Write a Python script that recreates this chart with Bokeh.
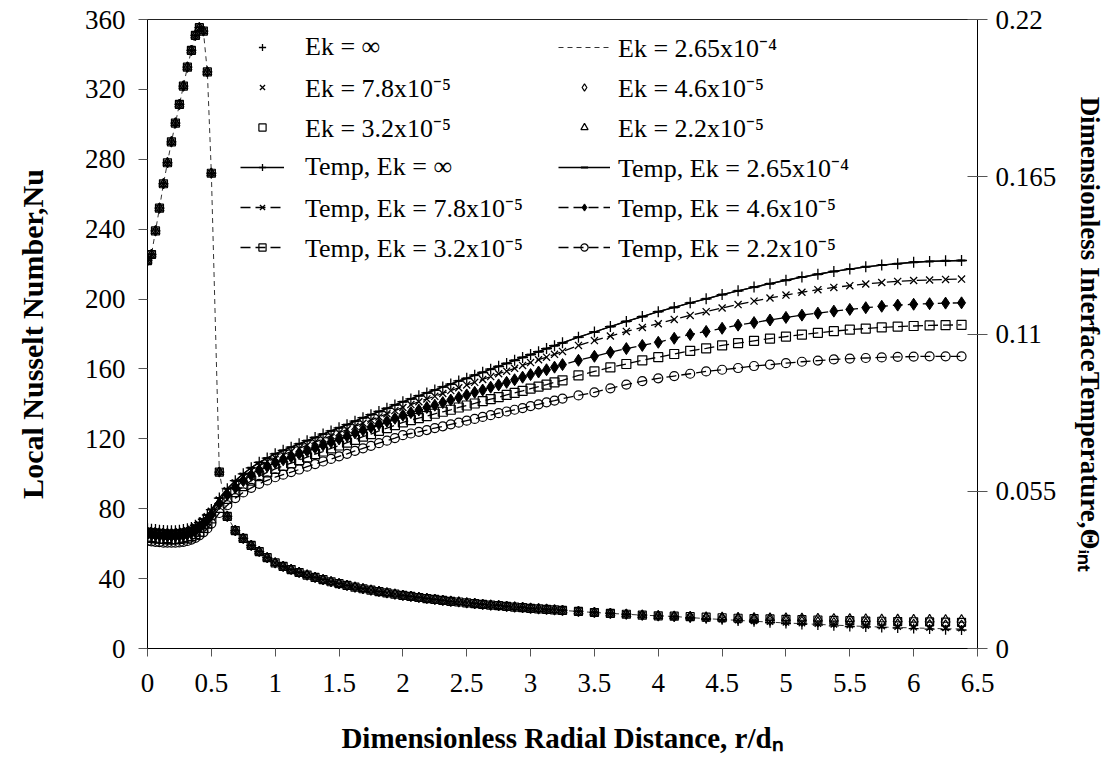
import numpy as np
from bokeh.plotting import figure
from bokeh.models import (Range1d, LinearAxis, FixedTicker, NumeralTickFormatter,
                          Legend, LegendItem)
from bokeh.embed import file_html
from bokeh.resources import INLINE

# ---------------- data ----------------
# radial positions r/d_n
r_dn = [0, 0.03125, 0.0625, 0.09375, 0.125, 0.15625, 0.1875, 0.21875, 0.25, 0.28125,
        0.3125, 0.34375, 0.375, 0.40625, 0.4375, 0.46875, 0.5,
        0.5625, 0.625, 0.6875, 0.75, 0.8125, 0.875, 0.9375, 1.0,
        1.0625, 1.125, 1.1875, 1.25, 1.3125, 1.375, 1.4375, 1.5, 1.5625, 1.625, 1.6875,
        1.75, 1.8125, 1.875, 1.9375, 2.0,
        2.0625, 2.125, 2.1875, 2.25, 2.3125, 2.375, 2.4375, 2.5, 2.5625, 2.625, 2.6875,
        2.75, 2.8125, 2.875, 2.9375, 3.0, 3.0625, 3.125, 3.1875, 3.25,
        3.375, 3.5, 3.625, 3.75, 3.875, 4.0, 4.125, 4.25, 4.375, 4.5, 4.625, 4.75, 4.875,
        5.0, 5.125, 5.25, 5.375, 5.5, 5.625, 5.75, 5.875, 6.0, 6.125, 6.25, 6.375]

# Local Nusselt number: all Ekman cases coincide up to r/d_n = 4
nu_common = [222, 225.5, 239, 252, 266, 278, 290, 300.7, 311.4, 321.9, 332.7, 342.3, 350.9,
             355.3, 353.4, 330, 272,
             101, 75.6, 67.5, 63, 59, 55.5, 52, 49,
             47.0, 45.2, 43.5, 42.0, 40.7, 39.4, 38.2, 37.1, 36.1, 35.1, 34.2, 33.4, 32.6,
             31.8, 31.1, 30.4,
             29.8, 29.2, 28.6, 28.1, 27.5, 27.0, 26.6, 26.1, 25.7, 25.2, 24.8, 24.5, 24.1,
             23.7, 23.4, 23.0, 22.7, 22.4, 22.1, 21.8,
             21.2, 20.6, 20.1, 19.6, 19.1, 18.7]
# Nusselt number beyond r/d_n = 4 for each Ekman number
nu_tail_inf = [18.2, 17.6, 17.0, 16.4, 15.8, 15.3, 14.8, 14.3, 13.8, 13.4, 13.0, 12.6, 12.3,
               12.0, 11.7, 11.4, 11.1, 10.8, 10.6]
nu_tail_265 = [18.3, 17.7, 17.1, 16.6, 16.1, 15.6, 15.1, 14.6, 14.2, 13.8, 13.4, 13.0, 12.6,
               12.3, 12.0, 11.8, 11.5, 11.3, 11.2]
nu_tail_78 = [18.3, 17.8, 17.3, 16.8, 16.3, 15.8, 15.4, 15.0, 14.6, 14.2, 13.8, 13.4, 13.1,
              12.8, 12.5, 12.2, 12.0, 11.8, 11.6]
nu_tail_46 = [18.4, 18.0, 17.6, 17.2, 16.8, 16.4, 16.1, 15.8, 15.5, 15.2, 14.9, 14.7, 14.5,
              14.3, 14.1, 13.9, 13.7, 13.5, 13.4]
nu_tail_32 = [18.5, 18.2, 17.9, 17.6, 17.3, 17.1, 16.9, 16.7, 16.5, 16.3, 16.1, 15.9, 15.7,
              15.6, 15.4, 15.3, 15.2, 15.1, 15.0]
nu_tail_22 = [18.5, 18.3, 18.1, 17.9, 17.7, 17.6, 17.5, 17.4, 17.3, 17.2, 17.1, 17.0, 16.9,
              16.8, 16.7, 16.6, 16.6, 16.5, 16.5]

# Dimensionless interface temperature, in thousandths (x 1e-3)
temp_inf_milli = [41.9, 41.7, 41.6, 41.4, 41.3, 41.2, 41.2, 41.2, 41.4, 41.6, 41.9, 42.3, 43.1,
                  44.0, 45.2, 46.7, 48.6,
                  52.6, 55.9, 58.7, 61.1, 63.2, 65.1, 66.6, 68.1,
                  69.3, 70.4, 71.6, 72.7, 73.8, 75.0, 76.1, 77.2, 78.3, 79.5, 80.7, 81.8, 82.9,
                  84.0, 85.2, 86.3,
                  87.3, 88.4, 89.4, 90.4, 91.5, 92.5, 93.6, 94.5, 95.6, 96.6, 97.7, 98.7, 99.7,
                  100.8, 101.8, 102.8, 103.8, 104.9, 105.9, 106.9,
                  108.9, 110.7, 112.6, 114.4, 116.1, 117.8, 119.3, 120.9, 122.3, 123.8, 125.1,
                  126.4, 127.6, 128.8, 129.9, 130.9, 131.9, 132.7, 133.5, 134.1, 134.6, 135.1,
                  135.4, 135.6, 135.7]
temp_265_milli = list(temp_inf_milli)
temp_78_milli = [41.2, 41.1, 40.9, 40.8, 40.7, 40.6, 40.6, 40.6, 40.8, 40.9, 41.2, 41.7, 42.5,
                 43.4, 44.6, 46.1, 48.0,
                 51.9, 55.2, 57.9, 60.2, 62.2, 63.9, 65.4, 66.7,
                 67.8, 68.9, 70.0, 71.1, 72.2, 73.3, 74.4, 75.5, 76.6, 77.7, 78.8, 79.9, 81.0,
                 82.1, 83.2, 84.3,
                 85.3, 86.3, 87.3, 88.2, 89.2, 90.2, 91.2, 92.2, 93.1, 94.1, 95.1, 96.1, 97.0,
                 98.0, 99.0, 100.0, 101.0, 101.9, 102.9, 103.9,
                 106.0, 107.7, 109.3, 110.9, 112.3, 113.6, 115.1, 116.5, 117.8, 119.1, 120.3,
                 121.5, 122.6, 123.6, 124.6, 125.5, 126.3, 126.9, 127.5, 128.0, 128.4, 128.7,
                 128.9, 129.1, 129.2]
temp_46_milli = [40.0, 39.9, 39.7, 39.6, 39.5, 39.4, 39.4, 39.4, 39.5, 39.7, 40.0, 40.5, 41.2,
                 42.2, 43.4, 44.9, 46.7,
                 50.7, 53.8, 56.3, 58.7, 60.6, 62.3, 63.7, 65.0,
                 66.0, 67.0, 68.1, 69.1, 70.2, 71.2, 72.2, 73.3, 74.3, 75.4, 76.4, 77.4, 78.5,
                 79.5, 80.5, 81.6,
                 82.5, 83.4, 84.3, 85.1, 86.0, 86.9, 87.8, 88.7, 89.6, 90.4, 91.4, 92.2, 93.1,
                 94.0, 94.9, 95.8, 96.7, 97.5, 98.4, 99.3,
                 100.8, 102.2, 103.6, 104.9, 106.0, 107.1, 108.5, 109.8, 110.9, 112.0, 113.1,
                 114.0, 114.9, 115.8, 116.6, 117.3, 118.0, 118.6, 119.2, 119.7, 120.1, 120.4,
                 120.6, 120.8, 120.9]
temp_32_milli = [38.8, 38.7, 38.5, 38.4, 38.3, 38.2, 38.2, 38.2, 38.3, 38.5, 38.8, 39.3, 40.0,
                 40.9, 42.2, 43.7, 45.5,
                 49.2, 52.3, 54.7, 56.8, 58.7, 60.3, 61.6, 62.8,
                 63.9, 64.8, 65.9, 66.9, 68.0, 68.9, 70.0, 71.0, 72.0, 73.0, 74.1, 75.0, 76.1,
                 77.1, 78.1, 79.1,
                 79.9, 80.6, 81.3, 82.1, 82.8, 83.5, 84.3, 85.0, 85.7, 86.5, 87.2, 87.9, 88.7,
                 89.4, 90.1, 90.9, 91.6, 92.3, 93.1, 93.8,
                 95.5, 96.9, 98.3, 99.5, 100.8, 101.9, 103.0, 104.1, 105.0, 106.0, 106.8, 107.6,
                 108.4, 109.1, 109.8, 110.4, 111.0, 111.5, 111.9, 112.3, 112.6, 112.8, 113.0,
                 113.1, 113.2]
temp_22_milli = [37.6, 37.5, 37.3, 37.2, 37.0, 37.0, 37.0, 37.0, 37.1, 37.3, 37.6, 38.1, 38.7,
                 39.6, 40.6, 42.0, 43.7,
                 47.4, 50.1, 52.6, 54.6, 56.2, 57.6, 58.8, 59.9,
                 60.8, 61.7, 62.6, 63.6, 64.5, 65.4, 66.3, 67.2, 68.1, 69.1, 70.0, 70.9, 71.8,
                 72.7, 73.6, 74.6,
                 75.2, 75.8, 76.4, 77.1, 77.7, 78.4, 79.0, 79.7, 80.3, 81.0, 81.6, 82.3, 82.9,
                 83.5, 84.1, 84.8, 85.4, 86.1, 86.7, 87.4,
                 88.5, 89.6, 91.0, 92.3, 93.5, 94.5, 95.3, 96.1, 96.9, 97.5, 98.1, 98.8, 99.3,
                 99.8, 100.3, 100.7, 101.1, 101.4, 101.6, 101.8, 102.0, 102.1, 102.2, 102.2,
                 102.2]

x_ticks = [0, 0.5, 1, 1.5, 2, 2.5, 3, 3.5, 4, 4.5, 5, 5.5, 6, 6.5]
nu_ticks = [0, 40, 80, 120, 160, 200, 240, 280, 320, 360]
temp_ticks = [0, 0.055, 0.11, 0.165, 0.22]

x = np.array(r_dn)
nu = {k: np.array(nu_common + t) for k, t in [("inf", nu_tail_inf), ("265", nu_tail_265),
                                              ("78", nu_tail_78), ("46", nu_tail_46),
                                              ("32", nu_tail_32), ("22", nu_tail_22)]}
temp = {"inf": np.array(temp_inf_milli) / 1000, "265": np.array(temp_265_milli) / 1000,
        "78": np.array(temp_78_milli) / 1000, "46": np.array(temp_46_milli) / 1000,
        "32": np.array(temp_32_milli) / 1000, "22": np.array(temp_22_milli) / 1000}
for k in nu:
    assert len(nu[k]) == len(x), (k, len(nu[k]))
    assert len(temp[k]) == len(x), (k, len(temp[k]))

# ---------------- figure ----------------
FONT = "Liberation Serif"
p = figure(width=1108, height=760, output_backend="svg", toolbar_location=None, title=None,
           x_range=Range1d(0, 6.5), y_range=Range1d(0, 360),
           min_border_left=147, min_border_right=131, min_border_top=19, min_border_bottom=112)
p.xgrid.visible = False
p.ygrid.visible = False
p.outline_line_color = "#222222"
p.background_fill_color = "white"
p.border_fill_color = "white"
p.extra_y_ranges = {"t": Range1d(0, 0.22)}

def style_axis(ax, tin, tout, standoff, title, title_size, title_standoff):
    ax.axis_line_color = "black"
    ax.axis_line_width = 1
    ax.major_tick_line_color = "#555555"
    ax.major_tick_in = tin
    ax.major_tick_out = tout
    ax.minor_tick_line_color = None
    ax.major_label_text_font = FONT
    ax.major_label_text_font_size = "27px"
    ax.major_label_text_color = "black"
    ax.major_label_standoff = standoff
    ax.axis_label = title
    ax.axis_label_text_font = FONT
    ax.axis_label_text_font_style = "bold"
    ax.axis_label_text_font_size = title_size
    ax.axis_label_text_color = "black"
    ax.axis_label_standoff = title_standoff

xa = p.xaxis[0]
xa.ticker = FixedTicker(ticks=x_ticks)
xa.formatter = NumeralTickFormatter(format="0.[0]")
style_axis(xa, 0, 8, 17, "Dimensionless Radial Distance, r/dₙ", "29px", 27)
ya = p.yaxis[0]
ya.ticker = FixedTicker(ticks=nu_ticks)
style_axis(ya, 0, 9, 13, "Local Nusselt Number,Nu", "30px", 33)
ra = LinearAxis(y_range_name="t")
ra.ticker = FixedTicker(ticks=temp_ticks)
ra.formatter = NumeralTickFormatter(format="0.[000]")
style_axis(ra, 10, 10, 8, "Dimensionless InterfaceTemperature,Θᵢₙₜ", "27px", 16)
p.add_layout(ra, "right")

# ---------------- temperature curves (right axis) ----------------
LW = 1.3
t_inf_l = p.line(x, temp["inf"], y_range_name="t", color="black", line_width=LW)
t_inf_s = p.scatter(x, temp["inf"], y_range_name="t", marker="cross", size=11,
                    line_color="black", line_width=1.3)
t_265_l = p.line(x, temp["265"], y_range_name="t", color="black", line_width=LW)
t_265_s = p.scatter(x, temp["265"], y_range_name="t", marker="dash", size=8,
                    line_color="black", line_width=2)
t_78_l = p.line(x, temp["78"], y_range_name="t", color="black", line_width=LW, line_dash="10 5")
t_78_s = p.scatter(x, temp["78"], y_range_name="t", marker="x", size=10,
                   line_color="black", line_width=1.3)
t_46_l = p.line(x, temp["46"], y_range_name="t", color="black", line_width=LW, line_dash="10 5")
t_46_s = p.scatter(x, temp["46"], y_range_name="t", marker="diamond", size=12,
                   line_color="black", fill_color="black")
t_32_l = p.line(x, temp["32"], y_range_name="t", color="black", line_width=LW, line_dash="10 5")
t_32_s = p.scatter(x, temp["32"], y_range_name="t", marker="square", size=9,
                   line_color="black", fill_color=None, line_width=1.2)
t_22_l = p.line(x, temp["22"], y_range_name="t", color="black", line_width=LW, line_dash="10 5")
t_22_s = p.scatter(x, temp["22"], y_range_name="t", marker="circle", size=9,
                   line_color="black", fill_color=None, line_width=1.2)

# ---------------- Nusselt number (left axis) ----------------
nu_265 = p.line(x, nu["265"], color="#333333", line_width=1, line_dash="5 4")
nu_inf = p.scatter(x, nu["inf"], marker="cross", size=10, line_color="black", line_width=1.3)
nu_78 = p.scatter(x, nu["78"], marker="x", size=9, line_color="black", line_width=1.3)
nu_46 = p.scatter(x, nu["46"], marker="diamond", size=10, line_color="black",
                  fill_color=None, line_width=1.2)
nu_32 = p.scatter(x, nu["32"], marker="square", size=8, line_color="black",
                  fill_color=None, line_width=1.2)
nu_22 = p.scatter(x, nu["22"], marker="triangle", size=9, line_color="black",
                  fill_color=None, line_width=1.2)

# ---------------- legends ----------------
def make_legend(items, x0, gw, standoff):
    lg = Legend(items=items, location=(x0, 381), orientation="vertical",
                label_text_font=FONT, label_text_font_size="26px",
                label_text_color="black", glyph_width=gw, glyph_height=18,
                label_height=40, spacing=0, padding=0, margin=0,
                label_standoff=standoff, border_line_color=None,
                background_fill_alpha=0)
    p.add_layout(lg, "center")

make_legend([
    LegendItem(label="Ek = ∞", renderers=[nu_inf]),
    LegendItem(label="Ek = 7.8x10⁻⁵", renderers=[nu_78]),
    LegendItem(label="Ek = 3.2x10⁻⁵", renderers=[nu_32]),
    LegendItem(label="Temp, Ek = ∞", renderers=[t_inf_l, t_inf_s]),
    LegendItem(label="Temp, Ek = 7.8x10⁻⁵", renderers=[t_78_l, t_78_s]),
    LegendItem(label="Temp, Ek = 3.2x10⁻⁵", renderers=[t_32_l, t_32_s]),
], 93, 44, 21)
make_legend([
    LegendItem(label="Ek = 2.65x10⁻⁴", renderers=[nu_265]),
    LegendItem(label="Ek = 4.6x10⁻⁵", renderers=[nu_46]),
    LegendItem(label="Ek = 2.2x10⁻⁵", renderers=[nu_22]),
    LegendItem(label="Temp, Ek = 2.65x10⁻⁴", renderers=[t_265_l, t_265_s]),
    LegendItem(label="Temp, Ek = 4.6x10⁻⁵", renderers=[t_46_l, t_46_s]),
    LegendItem(label="Temp, Ek = 2.2x10⁻⁵", renderers=[t_22_l, t_22_s]),
], 411, 52, 8)

open("out.html", "w").write(file_html(p, INLINE))
